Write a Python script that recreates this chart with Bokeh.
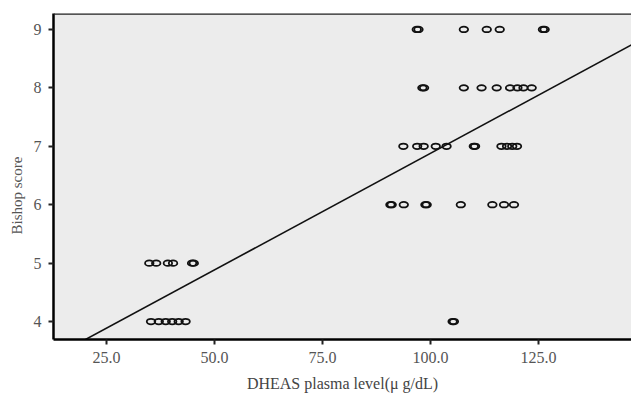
from bokeh.plotting import figure
from bokeh.models import Range1d, FixedTicker, Span, Title, ColumnDataSource
from bokeh.embed import file_html
from bokeh.resources import INLINE

# ---- data ----
x_9 = [96.8, 97.2, 107.7, 113.0, 116.0, 126.0, 126.4]
x_8 = [98.1, 98.5, 107.7, 111.8, 115.3, 118.4, 120.1, 121.5, 123.4]
x_7 = [93.7, 96.9, 98.4, 101.2, 103.7, 110.0, 110.3, 116.4, 117.7, 118.9, 120.0]
x_6 = [90.7, 91.0, 93.8, 98.8, 99.1, 107.0, 114.3, 117.0, 119.3]
x_5 = [34.9, 36.5, 39.2, 40.4, 44.8, 45.2]
x_4 = [35.3, 37.1, 38.7, 40.2, 41.7, 43.3, 105.1, 105.4]
rows = {9: x_9, 8: x_8, 7: x_7, 6: x_6, 5: x_5, 4: x_4}

fit_intercept = 2.89
fit_slope = 0.0399

x_ticks = [25, 50, 75, 100, 125]
y_ticks = [4, 5, 6, 7, 8, 9]
x_start, x_end = 12.73, 146.5
y_start, y_end = 3.693, 9.273

xs, ys = [], []
for score, vals in rows.items():
    xs += vals
    ys += [score] * len(vals)
src = ColumnDataSource(dict(x=xs, y=ys))

serif = "Liberation Serif"

p = figure(width=631, height=394, output_backend="svg", toolbar_location=None,
           x_range=Range1d(x_start, x_end), y_range=Range1d(y_start, y_end),
           min_border_left=53, min_border_right=0, min_border_top=13, min_border_bottom=54)
p.background_fill_color = "#ececec"
p.border_fill_color = "white"
p.outline_line_color = None
p.grid.visible = False

for ax in (p.xaxis[0], p.yaxis[0]):
    ax.axis_line_color = "black"
    ax.axis_line_width = 2.5
    ax.major_tick_line_color = "#222222"
    ax.major_tick_line_width = 2
    ax.major_tick_in = 0
    ax.major_tick_out = 5
    ax.minor_tick_line_color = None
    ax.major_label_text_font = serif
    ax.major_label_text_font_size = "16px"
    ax.major_label_text_color = "#555555"
    ax.axis_label_text_font = serif
    ax.axis_label_text_font_style = "normal"
    ax.axis_label_text_color = "#444444"

p.xaxis[0].ticker = FixedTicker(ticks=x_ticks)
p.xaxis[0].major_label_overrides = {t: f"{t:.1f}" for t in x_ticks}
p.xaxis[0].major_label_standoff = 7
p.xaxis[0].axis_label = "DHEAS plasma level(μ g/dL)"
p.xaxis[0].axis_label_text_font_size = "16px"
p.xaxis[0].axis_label_standoff = 9

p.yaxis[0].ticker = FixedTicker(ticks=y_ticks)
p.yaxis[0].major_label_standoff = 7
p.yaxis[0].major_label_orientation = "horizontal"

ylab = Title(text="Bishop score", align="left", offset=105,
             text_font=serif, text_font_size="15px", text_font_style="normal",
             text_color="#555555", vertical_align="middle")
p.add_layout(ylab, "left")

p.add_layout(Span(location=y_end, dimension="width", line_color="#222222", line_width=2.5))

# regression line
lx = [x_start, x_end]
ly = [fit_intercept + fit_slope * v for v in lx]
p.line(lx, ly, line_color="#111111", line_width=1.6)

p.ellipse(x="x", y="y", source=src, width=8.5, height=5.5,
          width_units="screen", height_units="screen",
          fill_color=None, line_color="#111111", line_width=1.8)

open("out.html", "w").write(file_html(p, INLINE))
